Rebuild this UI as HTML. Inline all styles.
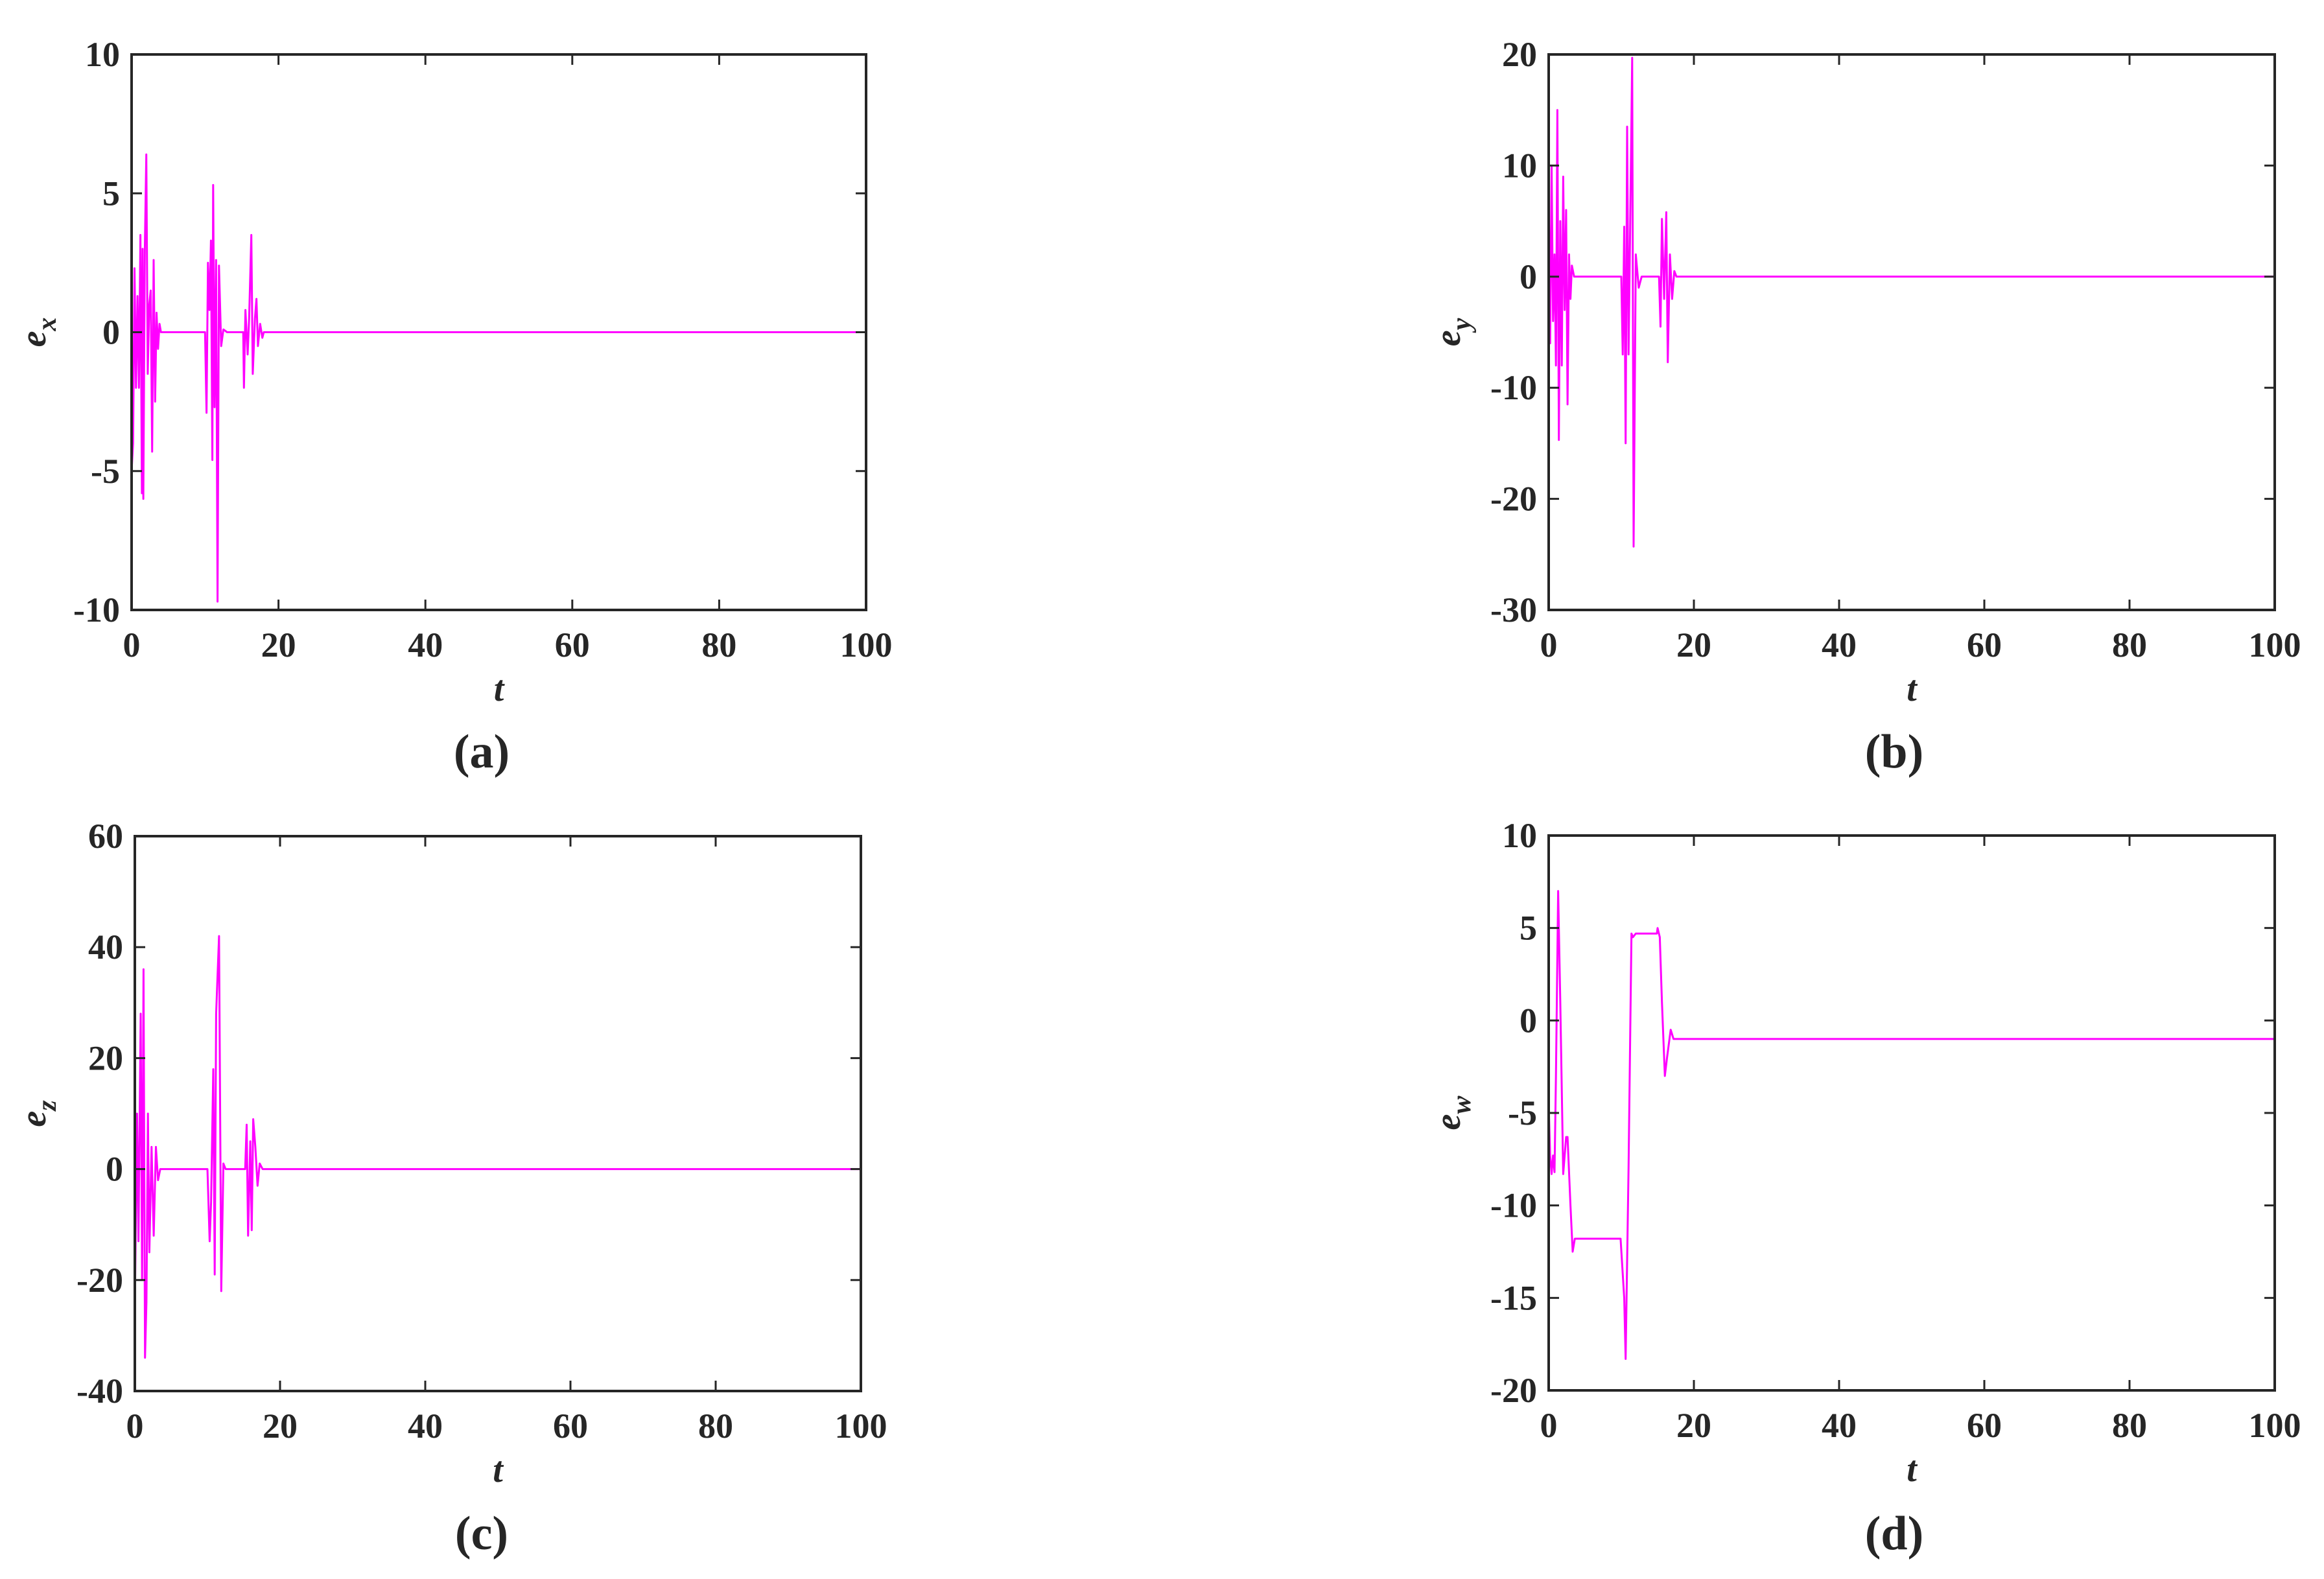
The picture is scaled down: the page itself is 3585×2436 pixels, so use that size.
<!DOCTYPE html>
<html><head><meta charset="utf-8"><style>
html,body{margin:0;padding:0;background:#fff}
svg{display:block}
text{font-family:"Liberation Serif",serif;font-weight:bold;fill:#262626}
</style></head><body>
<svg id="fig" width="3585" height="2436" viewBox="0 0 3585 2436" xmlns="http://www.w3.org/2000/svg"></svg>
<script>
const xTicks=[0,20,40,60,80,100];
const ticksA=[-10,-5,0,5,10];
const ticksB=[-30,-20,-10,0,10,20];
const ticksC=[-40,-20,0,20,40,60];
const ticksD=[-20,-15,-10,-5,0,5,10];
const tA=[0,0.2,0.4,0.6,0.8,1.0,1.2,1.4,1.5,1.6,1.8,2.0,2.2,2.4,2.6,2.8,3.0,3.2,3.4,3.6,3.8,4.0,10,10.2,10.4,10.6,10.8,11,11.1,11.3,11.5,11.7,11.9,12.2,12.5,13,15.2,15.3,15.5,15.8,16.0,16.3,16.5,16.8,17.0,17.2,17.5,17.8,18,100];
const vA=[-5,-4,2.3,-2,1.3,-2,3.5,-5.8,3,-6,3,6.4,-1.5,1,1.5,-4.3,2.6,-2.5,0.7,-0.6,0.3,0,0,-2.9,2.5,0.8,3.3,-4.6,5.3,-2.7,2.6,-9.7,2.4,-0.5,0.1,0,0,-2,0.8,-0.8,0.5,3.5,-1.5,0.5,1.2,-0.5,0.3,-0.2,0,0];
const tB=[0,0.2,0.4,0.6,0.8,1.0,1.2,1.4,1.6,1.8,2.0,2.2,2.4,2.6,2.8,3.0,3.2,3.5,10,10.2,10.4,10.6,10.8,11,11.2,11.5,11.7,12,12.4,12.8,15.2,15.4,15.6,15.9,16.2,16.4,16.7,17,17.3,17.6,100];
const vB=[8,-6,10,-4,2,-8,15,-14.7,5,-8,9,-3,6,-11.5,2,-2,1,0,0,-7,4.5,-15,13.5,-7,3,19.7,-24.3,2,-1,0,0,-4.5,5.2,-2,5.8,-7.7,2,-2,0.5,0,0];
const tC=[0,0.3,0.5,0.8,1.0,1.2,1.4,1.6,1.8,2.0,2.3,2.6,2.9,3.2,3.5,10,10.3,10.5,10.8,11,11.2,11.6,11.9,12.2,12.5,15.2,15.4,15.6,15.9,16.1,16.3,16.6,16.9,17.2,17.6,100];
const vC=[-25,10,-13,28,-20,36,-34,-24,10,-15,4,-12,4,-2,0,0,-13,-6,18,-19,28,42,-22,1,0,0,8,-12,5,-11,9,4,-3,1,0,0];
const tD=[0,0.2,0.4,0.6,0.8,1.0,1.3,1.6,2.0,2.4,2.6,3.0,3.3,3.6,4,9.9,10.4,10.6,11.0,11.4,11.6,12,14.9,15,15.3,15.6,16,16.3,16.8,17.2,18,100];
const vD=[-4.5,-7.3,-8.3,-7.3,-8.2,-3,7,1,-8.3,-6.3,-6.3,-10,-12.5,-11.8,-11.8,-11.8,-15,-18.3,-8,4.7,4.5,4.7,4.7,5,4.5,1,-3,-2,-0.5,-1,-1,-1];

const NS='http://www.w3.org/2000/svg';
const svg=document.getElementById('fig');
function mk(tag,attrs,parent){const e=document.createElementNS(NS,tag);for(const k in attrs)e.setAttribute(k,attrs[k]);(parent||svg).appendChild(e);return e;}

function panel(id,box,yTicks,ts,vs,sub,cap,capX,capY,labX){
  const g=mk('g',{});
  
  
  const [L,R,T,B]=box;const y0=yTicks[0],y1=yTicks[yTicks.length-1];
  const sx=v=>L+(v-0)/(100-0)*(R-L);
  const sy=v=>B-(v-y0)/(y1-y0)*(B-T);
  let d='';for(let i=0;i<ts.length;i++){d+=(i?'L':'M')+sx(ts[i]).toFixed(1)+' '+sy(vs[i]).toFixed(1);}
  const ln=mk('path',{d:d,fill:'none',stroke:'#ff00ff','stroke-width':3,'stroke-linejoin':'round'},g);
  
  
  const fr=mk('rect',{x:L,y:T,width:R-L,height:B-T,fill:'none',stroke:'#262626','stroke-width':4},g);
  
  
  xTicks.forEach(v=>{const x=sx(v);
    mk('line',{x1:x,x2:x,y1:B,y2:B-16,stroke:'#262626','stroke-width':3},g);
    mk('line',{x1:x,x2:x,y1:T,y2:T+16,stroke:'#262626','stroke-width':3},g);
    const t=mk('text',{x:x,y:B+72,'font-size':54,'text-anchor':'middle'},g);t.textContent=v;
    
    });
  yTicks.forEach(v=>{const y=sy(v);
    mk('line',{x1:L,x2:L+16,y1:y,y2:y,stroke:'#262626','stroke-width':3},g);
    mk('line',{x1:R,x2:R-16,y1:y,y2:y,stroke:'#262626','stroke-width':3},g);
    const t=mk('text',{x:L-18,y:y+18,'font-size':54,'text-anchor':'end'},g);t.textContent=v;
    
    });
  const xl=mk('text',{x:(L+R)/2,y:B+140,'font-size':56,'font-style':'italic','text-anchor':'middle'},g);xl.textContent='t';
  
  
  const ym=(T+B)/2;
  const yl=mk('text',{x:0,y:0,'font-size':56,'font-style':'italic','text-anchor':'middle',transform:`translate(${labX},${ym}) rotate(-90)`},g);
  yl.innerHTML='e<tspan dy="16" font-size="42">'+sub+'</tspan>';
  
  
  const c=mk('text',{x:capX,y:capY,'font-size':74,'font-weight':'normal','text-anchor':'middle'},g);
  c.innerHTML='(<tspan font-weight="bold">'+cap+'</tspan>)';
  
  
}
panel('a',[203,1336,84,941],ticksA,tA,vA,'x','a',743,1184,70);
panel('b',[2389,3509,84,941],ticksB,tB,vB,'y','b',2922,1184,2252);
panel('c',[208,1328,1290,2146],ticksC,tC,vC,'z','c',743,2390,70);
panel('d',[2389,3509,1289,2145],ticksD,tD,vD,'w','d',2922,2390,2252);
</script>
</body></html>
